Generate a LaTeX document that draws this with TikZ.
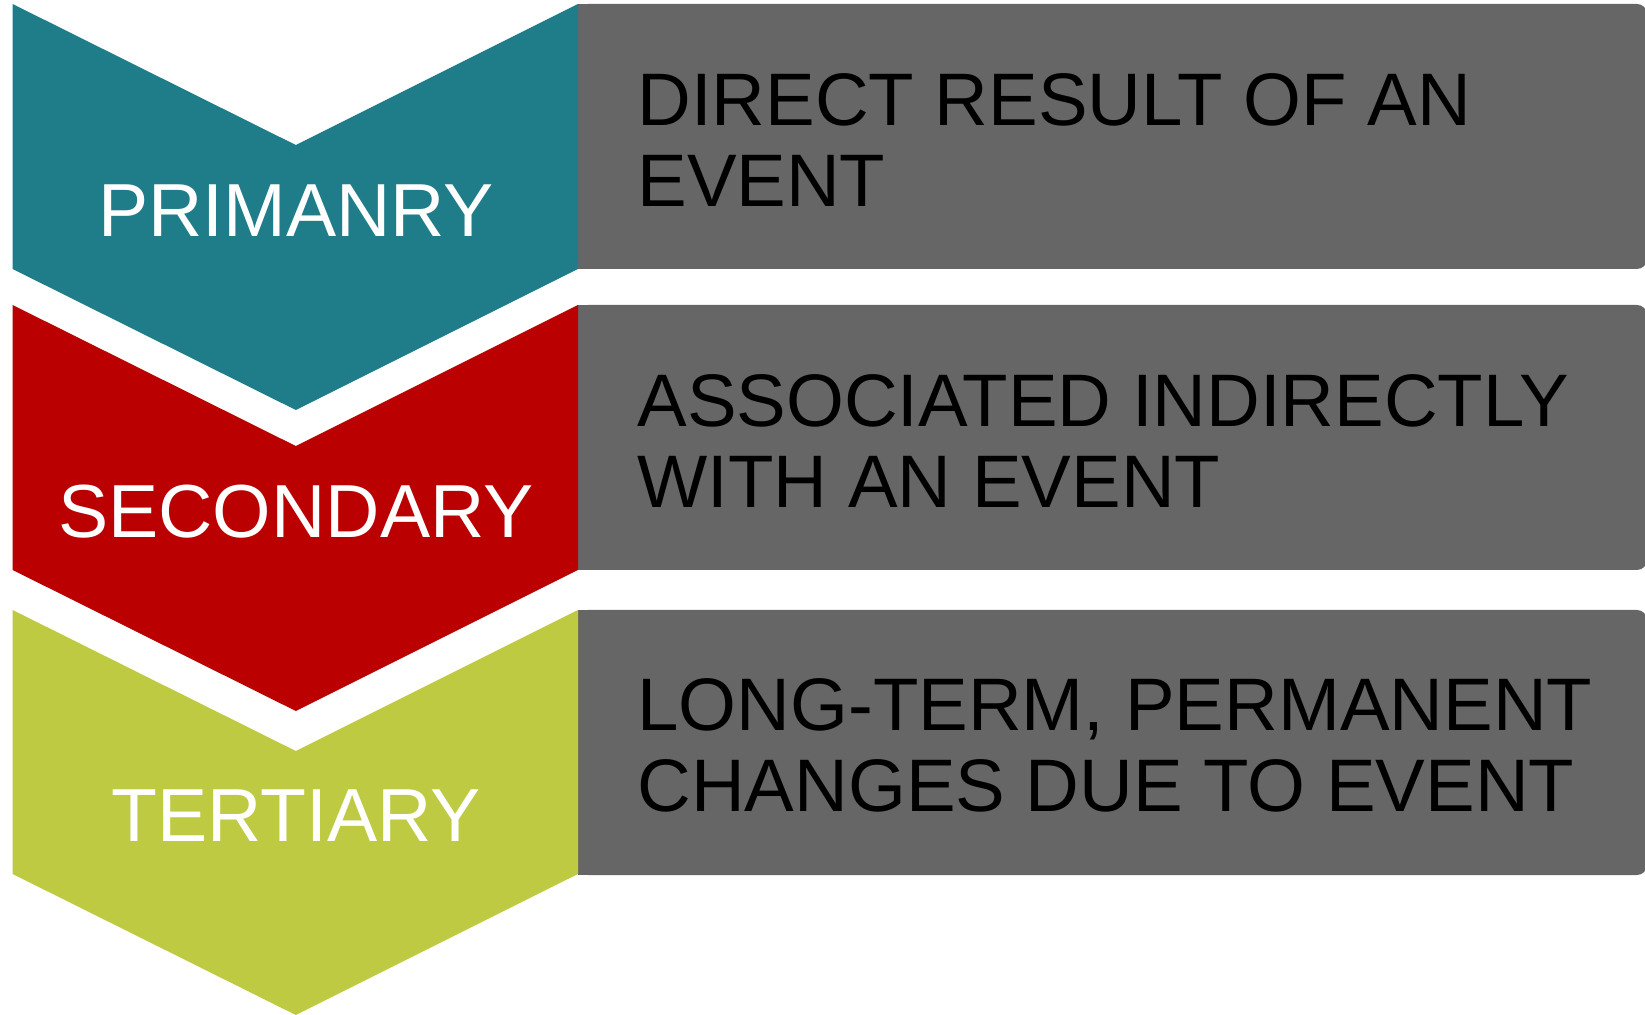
\documentclass[tikz,border=0pt]{standalone}
\usepackage{fontspec}
\setmainfont{Liberation Sans}
\definecolor{tealblue}{HTML}{1F7C89}
\definecolor{darkred}{HTML}{BA0000}
\definecolor{limegreen}{HTML}{BFCA43}
\definecolor{boxgray}{HTML}{666666}
\tikzset{
  level/.style={text=white, inner sep=0pt, font=\fontsize{37.6}{40}\selectfont},
  descbox/.style={fill=boxgray, rounded corners=5pt, inner sep=0pt, outer sep=0pt,
    anchor=north west, minimum width=534.5pt, minimum height=132.5pt},
  desctext/.style={text=black, inner sep=0pt, anchor=west, align=left,
    font=\fontsize{37.2}{40.4}\selectfont}
}
\begin{document}
\begin{tikzpicture}[x=0.5pt, y=-0.5pt]
            \useasboundingbox (0,0) rectangle (1645,1015);

            % Define the boxes
            \node[descbox] (box1) at (578,4) {};
            \node[descbox] (box2) at (578,305) {};
            \node[descbox] (box3) at (578,610) {};
            \fill[boxgray] (box1.north west) rectangle ([xshift=6pt]box1.south west);
            \fill[boxgray] (box2.north west) rectangle ([xshift=6pt]box2.south west);
            \fill[boxgray] (box3.north west) rectangle ([xshift=6pt]box3.south west);

            % Draw the chevrons
            \fill[tealblue] (12.6,4) -- (295.8,145) -- (578,4) -- (578,269)
                -- (295.8,410) -- (12.6,269) -- cycle;
            \fill[darkred] (12.6,305) -- (295.8,446) -- (578,305) -- (578,570)
                -- (295.8,711) -- (12.6,570) -- cycle;
            \fill[limegreen] (12.6,610) -- (295.8,751) -- (578,610) -- (578,874)
                -- (295.8,1015) -- (12.6,874) -- cycle;

            % Add labels
            \node[level] (primary) at (295.8,211) {PRIMANRY};
            \node[level] (secondary) at (295.8,512) {SECONDARY};
            \node[level] (tertiary) at (295.8,816) {TERTIARY};

            \node[desctext] (txt1) at (637,140) {DIRECT RESULT OF AN\\EVENT};
            \node[desctext] (txt2) at (637,441) {ASSOCIATED INDIRECTLY\\WITH AN EVENT};
            \node[desctext] (txt3) at (637,745) {LONG-TERM, PERMANENT\\CHANGES DUE TO EVENT};
            \end{tikzpicture}
\end{document}
